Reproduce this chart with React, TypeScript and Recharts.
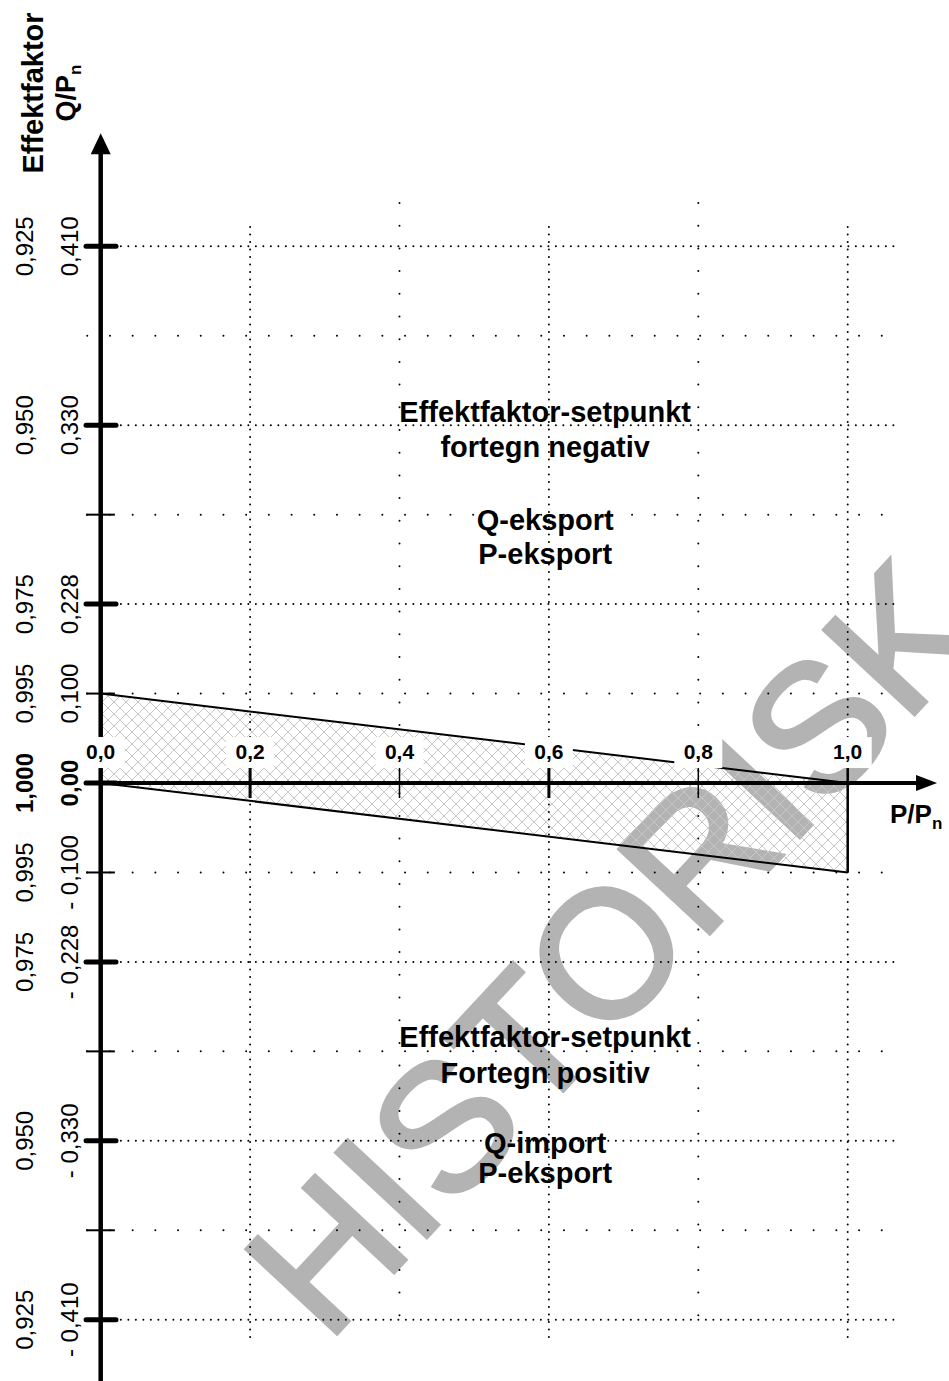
import React from 'react';
import { Area, ComposedChart, Line, ReferenceDot, ReferenceLine, XAxis, YAxis } from 'recharts';

// P/Pn axis
const pTicks = [0, 0.2, 0.4, 0.6, 0.8, 1.0];
const pLabels = ['0,0', '0,2', '0,4', '0,6', '0,8', '1,0'];
const pThickTicks = [0.2, 0.6];
const pThinTicks = [0.4, 0.8];
const pGridDense = [0.2, 0.6, 1.0];
const pGridSparse = [0.4, 0.8];

// Q/Pn axis: the rows are equally spaced, the Q values are not
const qRows = [6, 5, 4, 3, 2, 1, 0, -1, -2, -3, -4, -5, -6];
const qLabels = ['0,410', '', '0,330', '', '0,228', '0,100', '0,00', '- 0,100', '- 0,228', '', '- 0,330', '', '- 0,410'];
const pfLabels = ['0,925', '', '0,950', '', '0,975', '0,995', '1,000', '0,995', '0,975', '', '0,950', '', '0,925'];
const qRowsDense = [6, 4, 2, -2, -4, -6];
const qRowsSparse = [5, 3, 1, -1, -3, -5];
const qThickTickRows = [6, 4, 2, 0, -2, -4, -6];
const qThinTickRows = [3, 1, -1, -3, -5];

// allowed band (in rows): upper edge 0,100 -> 0, lower edge 0 -> -0,100
const bandP = [0, 1.0];
const bandUpper = [1, 0];
const bandLower = [0, -1];

const upperTexts = ['Effektfaktor-setpunkt', 'fortegn negativ', 'Q-eksport', 'P-eksport'];
const lowerTexts = ['Effektfaktor-setpunkt', 'Fortegn positiv', 'Q-import', 'P-eksport'];
const upperTextRows = [4.036, 3.645, 2.828, 2.454];
const lowerTextRows = [-2.948, -3.357, -4.14, -4.475];

const W = 949;
const H = 1381;
const FONT = '"Liberation Sans", Arial, Helvetica, sans-serif';
const X_DOMAIN: [number, number] = [-0.1348, 1.1356];
const Y_DOMAIN: [number, number] = [-6.685, 8.7535];

const band = bandP.map((p, i) => ({ p, hi: bandUpper[i], lo: bandLower[i] }));

const dense = { stroke: '#000', strokeWidth: 2, strokeDasharray: '0 7.5', strokeLinecap: 'round' as const };
const sparse = { stroke: '#000', strokeWidth: 2, strokeDasharray: '0 22.7', strokeLinecap: 'round' as const };

const rotatedLabel = (text: string, bold: boolean) => (props: any) => {
  const { cx, cy } = props;
  return (
    <text
      x={cx}
      y={cy}
      transform={`rotate(-90 ${cx} ${cy})`}
      textAnchor="middle"
      fontFamily={FONT}
      fontSize={24}
      fontWeight={bold ? 'bold' : 'normal'}
      fill="#000"
    >
      {text}
    </text>
  );
};

const xLabel = (text: string) => (props: any) => {
  const { cx, cy } = props;
  return (
    <g>
      <rect x={cx - 24} y={cy - 22} width={48} height={31} fill="#fff" />
      <text x={cx} y={cy} textAnchor="middle" fontFamily={FONT} fontSize={21} fontWeight="bold" fill="#000">
        {text}
      </text>
    </g>
  );
};

const noteText = (text: string) => (props: any) => (
  <text x={props.cx} y={props.cy} textAnchor="middle" fontFamily={FONT} fontSize={29} fontWeight="bold" fill="#000">
    {text}
  </text>
);

const arrowUp = (props: any) => {
  const { cx, cy } = props;
  return <path d={`M${cx},${cy} L${cx - 10},${cy + 21} L${cx + 10},${cy + 21} Z`} fill="#000" />;
};

const arrowRight = (props: any) => {
  const { cx, cy } = props;
  return <path d={`M${cx},${cy} L${cx - 21},${cy - 8} L${cx - 21},${cy + 8} Z`} fill="#000" />;
};

const watermark = (props: any) => {
  const { cx, cy } = props;
  return (
    <text
      x={cx}
      y={cy}
      transform={`rotate(-47 ${cx} ${cy})`}
      textAnchor="middle"
      dominantBaseline="central"
      fontFamily={FONT}
      fontSize={180}
      fill="#b3b3b3"
      stroke="#b3b3b3"
      strokeWidth={4}
    >
      HISTORISK
    </text>
  );
};

const yAxisTitle = (props: any) => {
  const { cx, cy } = props;
  return (
    <g transform={`rotate(-90 ${cx} ${cy})`} fontFamily={FONT} fontWeight="bold" fill="#000">
      <text x={cx} y={cy} textAnchor="middle" fontSize={29}>
        Effektfaktor
      </text>
      <text x={cx} y={cy + 32} textAnchor="middle" fontSize={27}>
        Q/P<tspan fontSize={17} dy={6}>n</tspan>
      </text>
    </g>
  );
};

const xAxisTitle = (props: any) => (
  <text x={props.cx} y={props.cy} fontFamily={FONT} fontWeight="bold" fontSize={26} fill="#000">
    P/P<tspan fontSize={17} dy={6}>n</tspan>
  </text>
);

export default function App() {
  return (
    <div style={{ position: 'absolute', left: 0, top: 0, width: W, height: H, background: '#fff' }}>
      <ComposedChart width={W} height={H} data={band} margin={{ top: 0, right: 0, bottom: 0, left: 0 }}>
        <defs>
          <pattern id="hatch" width="12" height="12" patternUnits="userSpaceOnUse">
            <path d="M0,0 L12,12 M12,0 L0,12" stroke="#c6c6c6" strokeWidth={1} />
          </pattern>
        </defs>
        <XAxis type="number" dataKey="p" domain={X_DOMAIN} allowDataOverflow hide />
        <YAxis type="number" domain={Y_DOMAIN} allowDataOverflow hide />

        <ReferenceDot x={0.683} y={-1.845} r={0} shape={watermark} zIndex={-300} />

        <Area
          type="linear"
          dataKey={(d: any) => [d.lo, d.hi]}
          fill="url(#hatch)"
          fillOpacity={1}
          stroke="none"
          dot={false}
          activeDot={false}
          isAnimationActive={false}
          zIndex={-200}
        />

        {qRowsDense.map(r => (
          <ReferenceLine key={`hd${r}`} segment={[{ x: 0.027, y: r }, { x: 1.068, y: r }]} {...dense} zIndex={-100} />
        ))}
        {qRowsSparse.map(r => (
          <ReferenceLine key={`hs${r}`} segment={[{ x: -0.018, y: r }, { x: 1.05, y: r }]} {...sparse} zIndex={-100} />
        ))}
        {pGridDense.map(p => (
          <ReferenceLine key={`vd${p}`} segment={[{ x: p, y: 6.216 }, { x: p, y: -6.25 }]} {...dense} zIndex={-100} />
        ))}
        {pGridSparse.map(p => (
          <ReferenceLine key={`vs${p}`} segment={[{ x: p, y: 6.484 }, { x: p, y: -6.2 }]} {...sparse} zIndex={-100} />
        ))}

        <Line type="linear" dataKey="hi" stroke="#000" strokeWidth={2} dot={false} activeDot={false} isAnimationActive={false} zIndex={10} />
        <Line type="linear" dataKey="lo" stroke="#000" strokeWidth={2} dot={false} activeDot={false} isAnimationActive={false} zIndex={10} />
        <ReferenceLine segment={[{ x: 1.0, y: 0.179 }, { x: 1.0, y: bandLower[1] }]} stroke="#000" strokeWidth={2.5} zIndex={10} />

        {/* axes */}
        <ReferenceLine segment={[{ x: 0, y: Y_DOMAIN[0] }, { x: 0, y: 7.08 }]} stroke="#000" strokeWidth={4.5} zIndex={20} />
        <ReferenceLine segment={[{ x: -0.018, y: 0 }, { x: 1.097, y: 0 }]} stroke="#000" strokeWidth={4} zIndex={20} />
        <ReferenceDot x={0} y={7.263} r={0} shape={arrowUp} zIndex={20} />
        <ReferenceDot x={1.1196} y={0} r={0} shape={arrowRight} zIndex={20} />

        {qThickTickRows.map(r => (
          <ReferenceLine
            key={`tk${r}`}
            segment={[{ x: -0.0196, y: r }, { x: 0.0205, y: r }]}
            stroke="#000"
            strokeWidth={5}
            strokeLinecap="round"
            zIndex={20}
          />
        ))}
        {qThinTickRows.map(r => (
          <ReferenceLine key={`tn${r}`} segment={[{ x: -0.0196, y: r }, { x: 0.019, y: r }]} stroke="#000" strokeWidth={2} zIndex={20} />
        ))}
        {pThickTicks.map(p => (
          <ReferenceLine key={`xk${p}`} segment={[{ x: p, y: 0.179 }, { x: p, y: -0.168 }]} stroke="#000" strokeWidth={3} zIndex={20} />
        ))}
        {pThinTicks.map(p => (
          <ReferenceLine key={`xn${p}`} segment={[{ x: p, y: 0.179 }, { x: p, y: -0.168 }]} stroke="#000" strokeWidth={1.5} zIndex={20} />
        ))}

        {/* labels */}
        {pTicks.map((p, i) => (
          <ReferenceDot key={`xl${p}`} x={p} y={0.268} r={0} shape={xLabel(pLabels[i])} zIndex={30} />
        ))}
        {qRows.map((r, i) =>
          qLabels[i] ? (
            <ReferenceDot key={`ql${r}`} x={-0.0304} y={r} r={0} shape={rotatedLabel(qLabels[i], r === 0)} zIndex={30} />
          ) : null
        )}
        {qRows.map((r, i) =>
          pfLabels[i] ? (
            <ReferenceDot key={`pl${r}`} x={-0.0906} y={r} r={0} shape={rotatedLabel(pfLabels[i], r === 0)} zIndex={30} />
          ) : null
        )}
        {upperTexts.map((t, i) => (
          <ReferenceDot key={`ut${i}`} x={0.595} y={upperTextRows[i]} r={0} shape={noteText(t)} zIndex={30} />
        ))}
        {lowerTexts.map((t, i) => (
          <ReferenceDot key={`lt${i}`} x={0.595} y={lowerTextRows[i]} r={0} shape={noteText(t)} zIndex={30} />
        ))}
        <ReferenceDot x={-0.0772} y={7.714} r={0} shape={yAxisTitle} zIndex={30} />
        <ReferenceDot x={1.0566} y={-0.447} r={0} shape={xAxisTitle} zIndex={30} />
      </ComposedChart>
    </div>
  );
}
